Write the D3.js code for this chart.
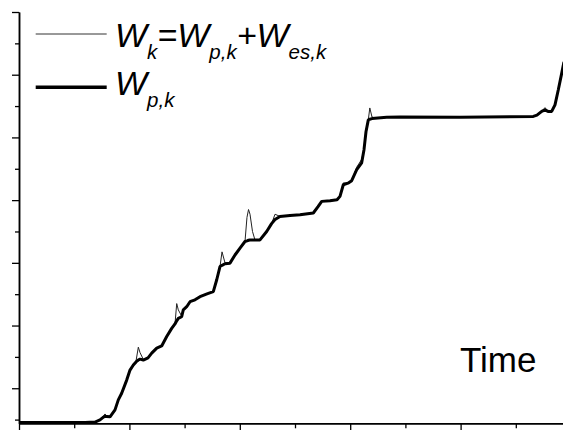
<!DOCTYPE html>
<html>
<head>
<meta charset="utf-8">
<script src="https://cdn.jsdelivr.net/npm/d3@7"></script>
<style>
  body { margin: 0; background: #fff; }
  text { font-family: "Liberation Sans", Arial, sans-serif; }
</style>
</head>
<body>
<div id="chart"></div>
<script>
// time in x-tick units, work values in y-tick units
let timeValues = [
  0.000, 1.196, 1.377, 1.467, 1.530, 1.558, 1.590, 1.649, 1.739, 1.799,
  1.860, 1.951, 2.011, 2.071, 2.120, 2.162, 2.192, 2.252, 2.337, 2.404,
  2.495, 2.585, 2.676, 2.766, 2.826, 2.857, 2.886, 2.947, 2.976, 3.038,
  3.098, 3.188, 3.279, 3.406, 3.520, 3.582, 3.641, 3.678, 3.732, 3.822,
  3.913, 4.004, 4.094, 4.130, 4.158, 4.185, 4.230, 4.275, 4.366, 4.487,
  4.576, 4.638, 4.728, 4.909, 5.091, 5.332, 5.417, 5.484, 5.634, 5.761,
  5.815, 5.875, 5.960, 6.027, 6.118, 6.208, 6.250, 6.286, 6.328, 6.355,
  6.395, 6.449, 6.661, 6.902, 7.989, 9.317, 9.384, 9.469, 9.529, 9.583,
  9.650, 9.710, 9.770, 9.832, 9.873
];

// W_p,k (thick)
let wpValues = [
  -0.09, -0.09, -0.08, -0.01, 0.08, 0.10, 0.10, 0.09, 0.31, 0.63,
  0.84, 1.26, 1.58, 1.74, 1.84, 1.90, 1.93, 1.90, 1.97, 2.12,
  2.28, 2.35, 2.65, 2.91, 3.05, 3.15, 3.23, 3.28, 3.50, 3.60,
  3.76, 3.82, 3.92, 4.01, 4.08, 4.46, 4.88, 4.92, 4.97, 4.99,
  5.25, 5.47, 5.68, 5.70, 5.72, 5.73, 5.73, 5.73, 5.73, 6.00,
  6.25, 6.38, 6.48, 6.51, 6.53, 6.59, 6.79, 6.96, 6.98, 7.01,
  7.12, 7.49, 7.54, 7.62, 7.97, 8.19, 8.61, 9.18, 9.56, 9.58,
  9.60, 9.61, 9.64, 9.65, 9.64, 9.67, 9.71, 9.83, 9.88, 9.83,
  9.83, 10.04, 10.52, 11.05, 11.41
];

// W_k = W_p,k + W_es,k (thin)
let wkValues = [
  -0.09, -0.09, -0.08, -0.01, 0.12, 0.18, 0.12, 0.09, 0.31, 0.63,
  0.84, 1.26, 1.58, 1.74, 1.87, 2.31, 2.14, 1.92, 1.97, 2.12,
  2.28, 2.35, 2.65, 2.91, 3.05, 3.70, 3.50, 3.30, 3.50, 3.60,
  3.76, 3.82, 3.92, 4.01, 4.08, 4.46, 4.88, 5.35, 5.00, 4.99,
  5.28, 5.47, 5.68, 6.45, 6.70, 6.55, 6.00, 5.73, 5.73, 6.00,
  6.25, 6.55, 6.48, 6.51, 6.53, 6.59, 6.80, 6.96, 6.98, 7.01,
  7.12, 7.55, 7.54, 7.62, 8.05, 8.30, 8.61, 9.18, 9.56, 9.94,
  9.65, 9.61, 9.64, 9.65, 9.64, 9.67, 9.71, 9.83, 9.95, 9.83,
  9.83, 10.04, 10.52, 11.05, 11.41
];

let xTicks = d3.range(0, 10);
let yTicks = d3.range(0, 14);
let timeLabel = "Time";

let width = 563, height = 430;
let margin = {top: 12, left: 19, bottom: 423.3, right: 563};

let svg = d3.select("#chart").append("svg")
    .attr("width", width)
    .attr("height", height);

let x = d3.scaleLinear()
    .domain([0, 9.855])
    .range([margin.left, margin.right]);

let y = d3.scaleLinear()
    .domain([-0.118, 13])
    .range([margin.bottom, margin.top]);

let data = timeValues.map((t, i) => ({t: t, wp: wpValues[i], wk: wkValues[i]}));

svg.append("clipPath").attr("id", "plot-clip")
    .append("rect")
    .attr("x", margin.left)
    .attr("y", 0)
    .attr("width", margin.right - margin.left)
    .attr("height", margin.bottom);

// axes: majors long, minors short
function styleAxis(g) {
    g.selectAll("path.domain").attr("stroke", "#000").attr("stroke-width", 1.5);
    g.selectAll(".tick line").attr("stroke", "#000").attr("stroke-width", 1.3);
    g.selectAll(".tick text").remove();
}

svg.append("g")
    .attr("transform", "translate(0," + margin.bottom + ")")
    .call(d3.axisBottom(x).tickValues(xTicks.filter(d => d % 2 === 1)).tickSize(5).tickSizeOuter(0).tickFormat(""))
    .call(styleAxis);

svg.append("g")
    .attr("transform", "translate(0," + margin.bottom + ")")
    .call(d3.axisBottom(x).tickValues(xTicks.filter(d => d % 2 === 0)).tickSize(8).tickSizeOuter(0).tickFormat(""))
    .call(styleAxis);

svg.append("g")
    .attr("transform", "translate(" + margin.left + ",0)")
    .call(d3.axisLeft(y).tickValues(yTicks.filter(d => d % 2 === 0)).tickSize(4).tickSizeOuter(0).tickFormat(""))
    .call(styleAxis);

svg.append("g")
    .attr("transform", "translate(" + margin.left + ",0)")
    .call(d3.axisLeft(y).tickValues(yTicks.filter(d => d % 2 === 1)).tickSize(7).tickSizeOuter(0).tickFormat(""))
    .call(styleAxis);

let lineWk = d3.line().x(d => x(d.t)).y(d => y(d.wk));
let lineWp = d3.line().x(d => x(d.t)).y(d => y(d.wp));

let plot = svg.append("g").attr("clip-path", "url(#plot-clip)");

plot.append("path")
    .datum(data)
    .attr("fill", "none")
    .attr("stroke", "#222")
    .attr("stroke-width", 1)
    .attr("d", lineWk);

plot.append("path")
    .datum(data)
    .attr("fill", "none")
    .attr("stroke", "#000")
    .attr("stroke-width", 3)
    .attr("stroke-linejoin", "bevel")
    .attr("d", lineWp);

// legend
let legend = svg.append("g");

legend.append("line")
    .attr("x1", 35.7).attr("x2", 106.7)
    .attr("y1", 34).attr("y2", 34)
    .attr("stroke", "#333").attr("stroke-width", 1);

legend.append("line")
    .attr("x1", 35.7).attr("x2", 106.7)
    .attr("y1", 87.3).attr("y2", 87.3)
    .attr("stroke", "#000").attr("stroke-width", 3.5);

// main letters 34px, subscripts 20.5px dropped 12px
function addLabel(parts, px, py) {
    let txt = legend.append("text")
        .attr("x", px)
        .attr("y", py)
        .style("font-style", "italic");
    let low = false;
    parts.forEach(p => {
        let sub = p[1];
        let dy = sub === low ? 0 : (sub ? 12 : -12);
        low = sub;
        txt.append("tspan")
            .attr("dy", dy)
            .style("font-size", sub ? "20.5px" : "34px")
            .text(p[0]);
    });
}

addLabel([["W", false], ["k", true], ["=", false], ["W", false], ["p,k", true],
          ["+", false], ["W", false], ["es,k", true]], 115, 46.7);
addLabel([["W", false], ["p,k", true]], 115, 95);

svg.append("text")
    .attr("x", 460)
    .attr("y", 372.3)
    .style("font-size", "35px")
    .text(timeLabel);
</script>
</body>
</html>
